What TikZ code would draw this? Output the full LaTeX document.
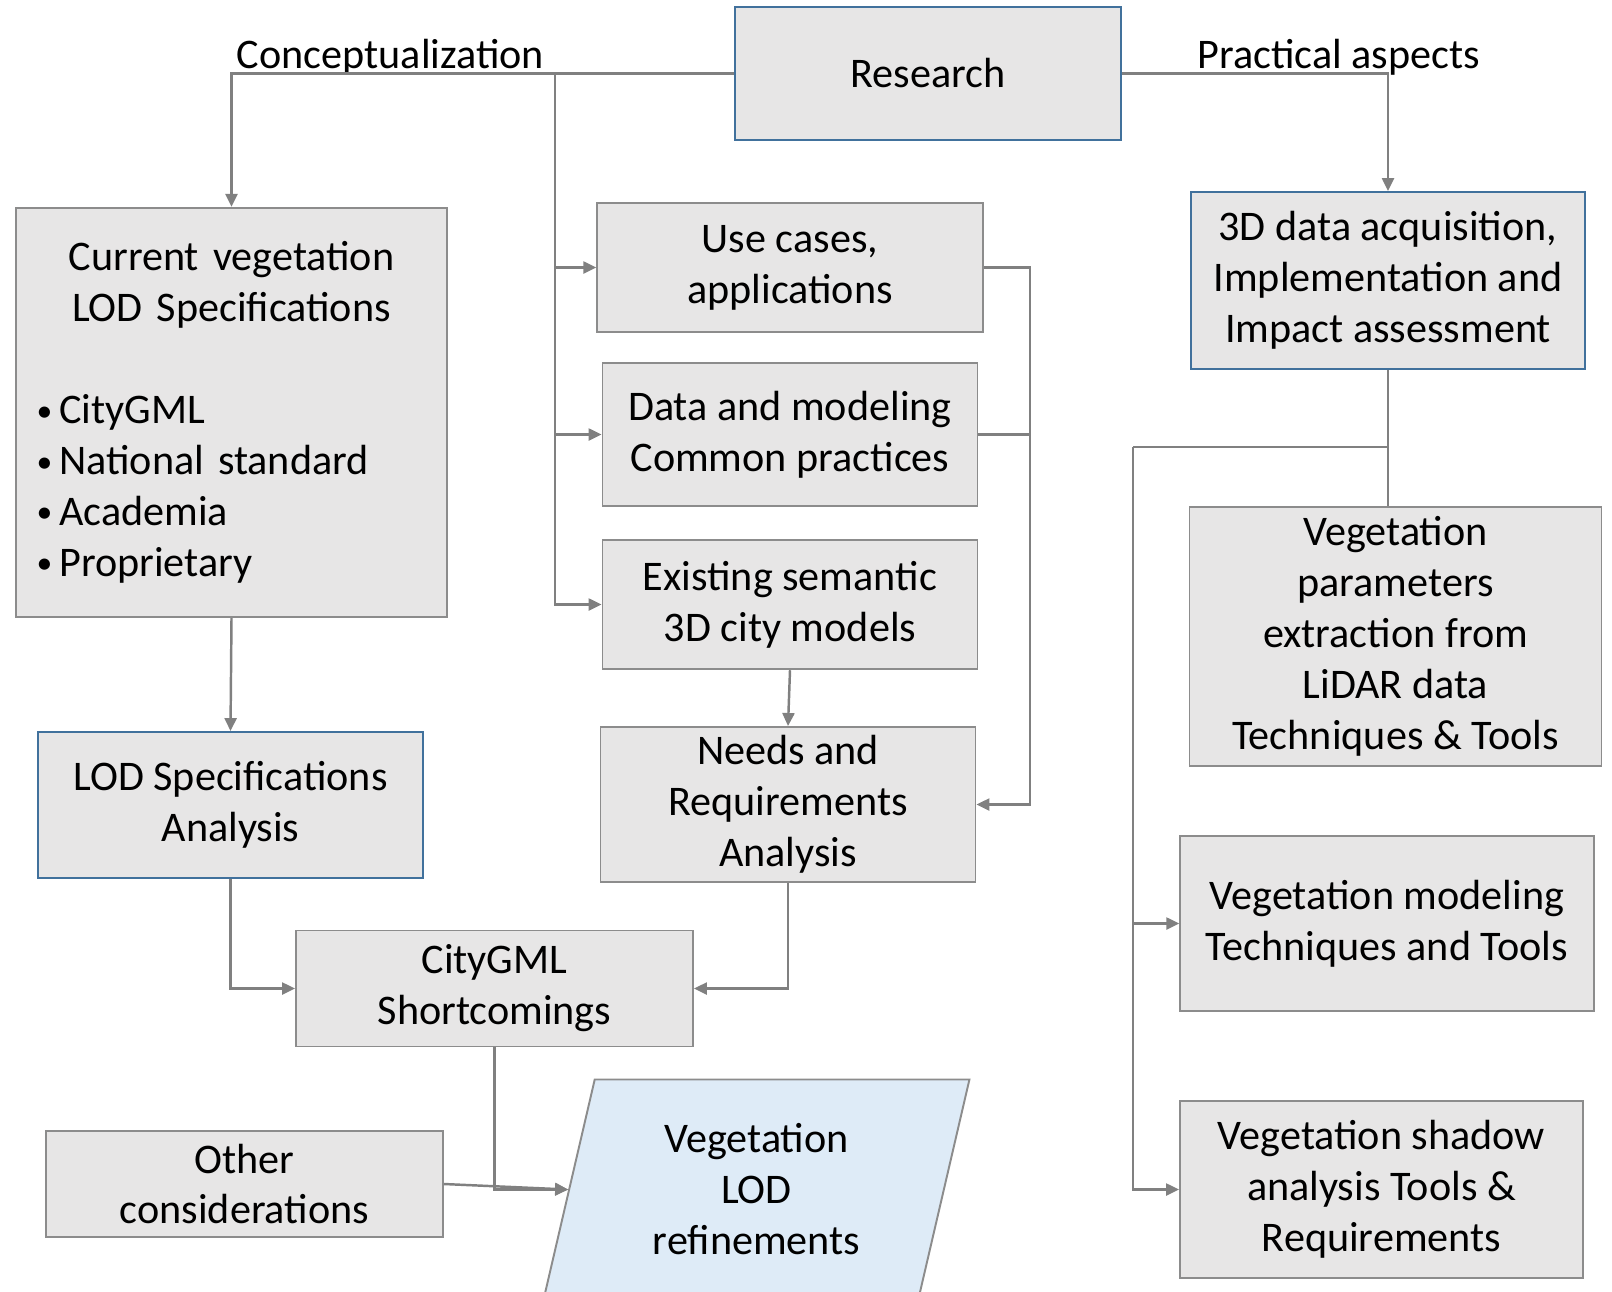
\documentclass[tikz,border=0pt]{standalone}
\usepackage{fontspec}
\setmainfont{Carlito}
\usepackage{tikz}
\usetikzlibrary{arrows.meta,positioning,shapes.geometric}

\definecolor{boxfill}{HTML}{E7E6E6}
\definecolor{boxgray}{HTML}{8C8C8C}
\definecolor{boxblue}{HTML}{41719C}
\definecolor{linegray}{HTML}{808080}
\definecolor{lightblue}{HTML}{DEEBF7}

\newcommand{\vbul}{\raisebox{1.5pt}{\fontsize{18}{18}\selectfont\textbullet}\,}

\begin{document}
\begin{tikzpicture}[
    font=\fontsize{24}{29}\selectfont,
    block/.style={draw=boxgray, fill=boxfill, line width=1.1pt, text=black, align=center, inner sep=0pt},
    blueblock/.style={block, draw=boxblue},
    slanted/.style={draw=boxgray, fill=lightblue, line width=1.1pt, text=black, align=center, trapezium, trapezium left angle=76, trapezium right angle=104, trapezium stretches=true, inner sep=0pt},
    link/.style={draw=linegray, line width=1.4pt},
    flow/.style={link, -{Triangle[length=2.6mm,width=2.4mm]}},
    heading/.style={text=black, inner sep=0pt}
]
\useasboundingbox (0,0) rectangle (32.24,-25.82);

\node[blueblock, minimum width=7.71cm, minimum height=2.65cm] (research) at (18.56,-1.47) {Research};
\node[heading] (concept) at (7.81,-1.14) {Conceptualization};
\node[heading] (practical) at (26.77,-1.14) {Practical aspects};

% conceptual side
\node[block, minimum width=8.63cm, minimum height=8.19cm, text width=7.8cm] (current) at (4.63,-8.25) {Current vegetation\\LOD Specifications\\[29pt]
\makebox[7.8cm][l]{\vbul CityGML}\\
\makebox[7.8cm][l]{\vbul National standard}\\
\makebox[7.8cm][l]{\vbul Academia}\\
\makebox[7.8cm][l]{\vbul Proprietary}};
\node[block, minimum width=7.71cm, minimum height=2.59cm] (usecases) at (15.80,-5.35) {Use cases,\\applications};
\node[block, minimum width=7.50cm, minimum height=2.86cm] (practices) at (15.80,-8.69) {Data and modeling\\Common practices};
\node[block, minimum width=7.50cm, minimum height=2.59cm] (existing) at (15.80,-12.09) {Existing semantic\\3D city models};
\node[block, minimum width=7.50cm, minimum height=3.10cm] (needs) at (15.76,-16.09) {Needs and\\Requirements\\Analysis};
\node[blueblock, minimum width=7.69cm, minimum height=2.92cm] (lodspec) at (4.61,-16.10) {LOD Specifications\\Analysis};
\node[block, minimum width=7.94cm, minimum height=2.32cm] (citygml) at (9.89,-19.77) {CityGML\\Shortcomings};
\node[block, minimum width=7.94cm, minimum height=2.12cm] (other) at (4.89,-23.68) {Other\\considerations};
\node[slanted, minimum width=8.52cm, minimum height=4.40cm] (refine) at (15.13,-23.79) {Vegetation\\LOD\\refinements};

% practical side
\node[blueblock, minimum width=7.89cm, minimum height=3.54cm] (acquire) at (27.76,-5.61) {3D data acquisition,\\Implementation and\\Impact assessment};
\node[block, minimum width=8.24cm, minimum height=5.18cm] (params) at (27.91,-12.73) {Vegetation\\parameters\\extraction from\\LiDAR data\\Techniques \& Tools};
\node[block, minimum width=8.27cm, minimum height=3.51cm] (modeling) at (27.74,-18.47) {Vegetation modeling\\Techniques and Tools};
\node[block, minimum width=8.06cm, minimum height=3.54cm] (shadow) at (27.63,-23.79) {Vegetation shadow\\analysis Tools \&\\Requirements};

\coordinate (lsplit) at (11.10,-1.47);
\coordinate (rjoin) at (20.60,-8.69);
\coordinate (rsplit) at (22.66,-8.94);

\draw[flow] (research.west) -| (current.north);
\draw[flow] (lsplit) |- (usecases.west);
\draw[flow] (lsplit) |- (practices.west);
\draw[flow] (lsplit) |- (existing.west);
\draw[flow] (usecases.east) -| (rjoin) |- (needs.east);
\draw[link] (practices.east) -- (rjoin);
\draw[flow] (existing.south) -- (needs.north);
\draw[flow] (current.south) -- (lodspec.north);
\draw[flow] (lodspec.south) |- (citygml.west);
\draw[flow] (needs.south) |- (citygml.east);
\draw[flow] (citygml.south) |- (refine.west);
\draw[flow] (other.east) -- (refine.west);

\draw[flow] (research.east) -| (acquire.north);
\draw[link] (acquire.south) -- (acquire.south |- params.north);
\draw[link] (acquire.south) |- (rsplit);
\draw[flow] (rsplit) |- (modeling.west);
\draw[flow] (rsplit) |- (shadow.west);
\end{tikzpicture}
\end{document}
